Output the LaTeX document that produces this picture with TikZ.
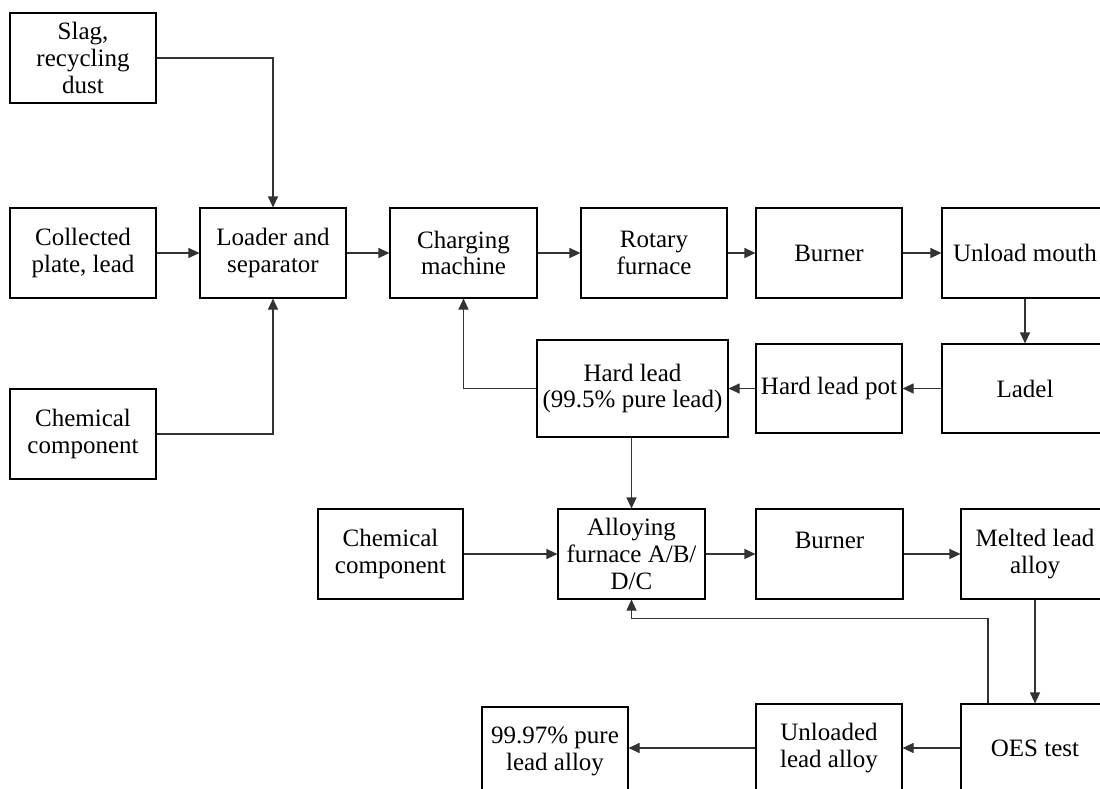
\documentclass[tikz,border=0pt]{standalone}
\usepackage{fontspec}
\setmainfont{Liberation Serif}
\usetikzlibrary{arrows.meta}
\tikzset{
  boxfont/.style={font=\fontsize{25bp}{26.8bp}\selectfont},
  box/.style={draw=black, line width=1.1bp, minimum width=146bp, minimum height=90bp,
    inner sep=0pt, align=center, boxfont},
  flow/.style={draw=black!80, line width=1.1bp, -{Triangle[length=11bp,width=10bp]}},
}
\begin{document}
\begin{tikzpicture}[x=1bp,y=-1bp]
\useasboundingbox (0,0) rectangle (1100,789);
\clip (0,0) rectangle (1100,789);
\fill[white] (0,0) rectangle (1100,789);
% row 1
\node[box] (slag) at (83,58) {Slag,\\recycling\\dust};
\node[box] (coll) at (83,253) {Collected\\plate, lead};
\node[box] (chem1) at (83,434) {Chemical\\component};
\node[box] (loader) at (273,253) {Loader and\\separator};
\node[box, minimum width=147bp] (charging) at (463.5,253) {Charging\\machine};
\node[box] (rotary) at (654,253) {Rotary\\furnace};
\node[box] (burner1) at (829,253) {Burner};
\node[box, minimum width=166bp] (unload) at (1025,253) {Unload mouth};
% row 2
\node[box, minimum width=166bp, minimum height=89bp] (ladel) at (1025,388.5) {Ladel};
\node[box, minimum height=89bp] (hlpot) at (829,388.5) {Hard lead pot};
\node[box, minimum width=191bp, minimum height=97bp] (hardlead) at (632.5,388.5) {Hard lead\\(99.5\% pure lead)};
% row 3
\node[box, minimum width=145bp] (chem2) at (390.5,554) {Chemical\\component};
\node[box, minimum width=147bp] (alloy) at (631.5,554) {Alloying\\furnace A/B/\\D/C};
\node[box, minimum width=147bp, label={[yshift=14bp, boxfont]center:Burner}] (burner2) at (829.5,554) {};
\node[box, minimum width=148bp] (melted) at (1035,554) {Melted lead\\alloy};
% row 4
\node[box, minimum width=148bp, minimum height=88bp] (oes) at (1035,748) {OES test};
\node[box, minimum height=88bp] (unloaded) at (829,748) {Unloaded\\lead alloy};
\node[box, minimum height=88bp] (pure) at (555,751) {99.97\% pure\\lead alloy};
% connectors
\draw[flow] (slag.east) -| (loader.north);
\draw[flow] (coll) -- (loader);
\draw[flow] (chem1.east) -| (loader.south);
\draw[flow] (loader) -- (charging);
\draw[flow] (charging) -- (rotary);
\draw[flow] (rotary) -- (burner1);
\draw[flow] (burner1) -- (unload);
\draw[flow] (unload) -- (ladel);
\draw[flow] (ladel) -- (hlpot);
\draw[flow] (hlpot) -- (hardlead);
\draw[flow] (hardlead.west) -| (charging.south);
\draw[flow] (alloy.north |- hardlead.south) -- (alloy.north);
\draw[flow] (chem2) -- (alloy);
\draw[flow] (alloy) -- (burner2);
\draw[flow] (burner2) -- (melted);
\draw[flow] (melted) -- (oes);
\draw[flow] ([xshift=-47bp]oes.north) -- ++(0,-85) -| (alloy.south);
\draw[flow] (oes) -- (unloaded);
\draw[flow] (unloaded.west) -- (unloaded.west -| pure.east);
\end{tikzpicture}
\end{document}
